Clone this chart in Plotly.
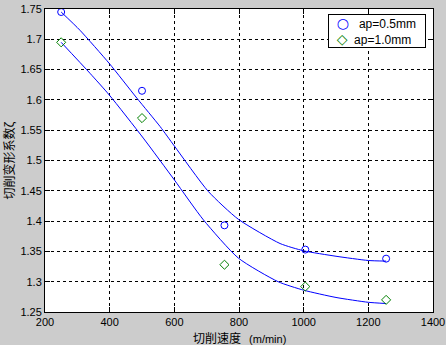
import plotly.graph_objects as go

# Measured points
speed = [250, 500, 755, 1005, 1255]
xi_05 = [1.745, 1.615, 1.393, 1.353, 1.338]
xi_10 = [1.695, 1.570, 1.328, 1.292, 1.270]

# Fitted curves
fit05_x = [250, 308, 399, 484, 556, 600, 705, 798, 927, 1000, 1100, 1200, 1255]
fit05_y = [1.745, 1.715, 1.660, 1.603, 1.556, 1.524, 1.449, 1.403, 1.363, 1.351, 1.342, 1.335, 1.334]
fit10_x = [250, 339, 399, 504, 600, 690, 798, 921, 1000, 1100, 1200, 1255]
fit10_y = [1.695, 1.644, 1.608, 1.537, 1.468, 1.402, 1.339, 1.300, 1.286, 1.274, 1.266, 1.264]

x_ticks = [200, 400, 600, 800, 1000, 1200, 1400]
x_labels = ["200", "400", "600", "800", "1000", "1200", "1400"]
y_ticks = [1.25, 1.3, 1.35, 1.4, 1.45, 1.5, 1.55, 1.6, 1.65, 1.7, 1.75]
y_labels = ["1.25", "1.3", "1.35", "1.4", "1.45", "1.5", "1.55", "1.6", "1.65", "1.7", "1.75"]

series_names = ["ap=0.5mm", "ap=1.0mm"]
x_title = "切削速度"
x_unit = "(m/min)"
y_title = "切削变形系数ζ"

font = "Liberation Sans, Arial, sans-serif"
cjk = "Noto Sans CJK SC, Liberation Sans, sans-serif"
BLUE = "#0000ff"
GREEN = "#008000"

fig = go.Figure()
fig.add_trace(go.Scatter(x=fit05_x, y=fit05_y, mode="lines",
                         line=dict(color=BLUE, width=1, shape="spline", smoothing=0.6),
                         showlegend=False, hoverinfo="skip"))
fig.add_trace(go.Scatter(x=fit10_x, y=fit10_y, mode="lines",
                         line=dict(color=BLUE, width=1, shape="spline", smoothing=0.6),
                         showlegend=False, hoverinfo="skip"))
fig.add_trace(go.Scatter(x=speed, y=xi_05, mode="markers", name=series_names[0], showlegend=False,
                         marker=dict(symbol="circle-open", size=7, color=BLUE, line=dict(width=1))))
fig.add_trace(go.Scatter(x=speed, y=xi_10, mode="markers", name=series_names[1], showlegend=False,
                         marker=dict(symbol="diamond-open", size=7, color=GREEN, line=dict(width=1))))

axis_common = dict(showline=True, linecolor="black", linewidth=1, mirror="ticks",
                   ticks="inside", ticklen=5, tickcolor="black",
                   showgrid=True, gridcolor="black", gridwidth=1, griddash="3px,3px",
                   zeroline=False, automargin=False,
                   tickfont=dict(family=font, size=11, color="black"))

fig.update_xaxes(range=[200, 1400], tickvals=x_ticks, ticktext=x_labels, **axis_common)
fig.update_yaxes(range=[1.25, 1.75], tickvals=y_ticks, ticktext=y_labels, **axis_common)

sym = "font-family:DejaVu Sans;font-size:14px"
legend_text = (f"&nbsp;&nbsp;<span style='color:{BLUE};{sym}'>○</span>&nbsp;&nbsp;&nbsp;{series_names[0]}<br>"
               f"&nbsp;&nbsp;<span style='color:{GREEN};{sym}'>◇</span>&nbsp;&nbsp;{series_names[1]}")

fig.update_layout(
    width=446, height=345,
    margin=dict(l=45, r=13, t=9, b=33),
    paper_bgcolor="#cccccc", plot_bgcolor="white",
    showlegend=False,
    annotations=[
        dict(text=f"{x_title}&nbsp;&nbsp;&nbsp;<span style='font-family:Liberation Sans;font-size:11px'>{x_unit}</span>",
             xref="paper", yref="paper", x=0.5, y=0, yanchor="top", yshift=-15,
             showarrow=False, font=dict(family=cjk, size=12, color="black")),
        dict(text=y_title, xref="paper", yref="paper", x=0, y=0.5, xanchor="center",
             xshift=-37, textangle=-90, showarrow=False,
             font=dict(family=cjk, size=12, color="black")),
        dict(text=legend_text, xref="paper", yref="paper", x=0.7294, y=0.9835,
             xanchor="left", yanchor="top", align="left", showarrow=False,
             bgcolor="white", bordercolor="black", borderwidth=1, borderpad=1,
             width=94, height=30,
             font=dict(family=font, size=12, color="black")),
    ],
)

fig.write_html("out.html", config={"displayModeBar": False},
               post_script="document.body.style.margin='0';")
